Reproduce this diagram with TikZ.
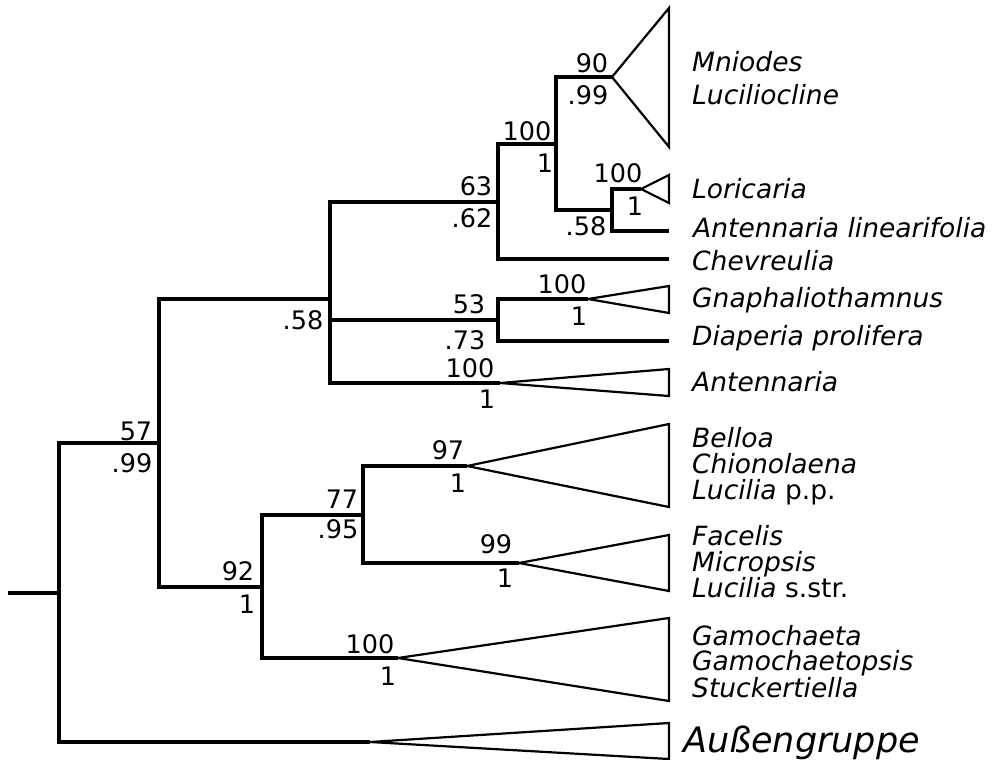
\documentclass[tikz,border=0pt]{standalone}
\usepackage{fontspec}
\setmainfont{DejaVu Sans}
\begin{document}
\begin{tikzpicture}[x=1pt,y=-1pt,
  br/.style={line width=4pt,line join=miter},
  leaf/.style={line width=3.4pt,line join=miter},
  tri/.style={line width=2.2pt,line join=miter},
  num/.style={anchor=base,inner sep=0pt,font=\fontsize{25.5}{26}\selectfont},
  taxon/.style={anchor=base west,inner sep=0pt,font=\fontsize{26.5}{27}\selectfont\itshape},
  big/.style={anchor=base west,inner sep=0pt,font=\fontsize{35}{36}\selectfont\itshape}]
\useasboundingbox (0,0) rectangle (997,760);
% internal nodes
\coordinate (S) at (8,593);
\coordinate (R) at (59,593);
\coordinate (n57) at (159,443);
\coordinate (n58) at (330,299);
\coordinate (n63) at (498,202);
\coordinate (n100a) at (556,144);
\coordinate (n58b) at (612,210);
\coordinate (n53) at (498,320);
\coordinate (n92) at (262,587);
\coordinate (n77) at (363,515);
% clade apices and leaf ends
\coordinate (mnA) at (612,77);
\coordinate (lorA) at (641,189);
\coordinate (alinE) at (669,231);
\coordinate (chevE) at (669,259);
\coordinate (gnA) at (588,299);
\coordinate (diaE) at (669,341);
\coordinate (antA) at (500,383);
\coordinate (belA) at (467,466);
\coordinate (facA) at (519,563);
\coordinate (gamA) at (398,658);
\coordinate (ogA) at (370,742);
% branches
\draw[br] (S) -- (R);
\draw[br] (R) |- (n57);
\draw[br] (R) |- (ogA);
\draw[br] (n57) |- (n58);
\draw[br] (n57) |- (n92);
\draw[br] (n58) |- (n63);
\draw[br] (n58) |- (n53);
\draw[br] (n58) |- (antA);
\draw[br] (n63) |- (n100a);
\draw[leaf] (n63) |- (chevE);
\draw[br] (n100a) |- (mnA);
\draw[br] (n100a) |- (n58b);
\draw[br] (n58b) |- (lorA);
\draw[leaf] (n58b) |- (alinE);
\draw[br] (n53) |- (gnA);
\draw[leaf] (n53) |- (diaE);
\draw[br] (n92) |- (n77);
\draw[br] (n92) |- (gamA);
\draw[br] (n77) |- (belA);
\draw[br] (n77) |- (facA);
% collapsed clades
\draw[tri] (mnA) -- (669,8) -- (669,147) -- cycle;
\draw[tri] (lorA) -- (669,175) -- (669,203) -- cycle;
\draw[tri] (gnA) -- (669,286) -- (669,313) -- cycle;
\draw[tri] (antA) -- (669,369) -- (669,396) -- cycle;
\draw[tri] (belA) -- (669,424) -- (669,507) -- cycle;
\draw[tri] (facA) -- (669,535) -- (669,591) -- cycle;
\draw[tri] (gamA) -- (669,618) -- (669,701) -- cycle;
\draw[tri] (ogA) -- (669,723) -- (669,759) -- cycle;
% support values
\node[num] (l57) at (136,440) {57};
\node[num] (l57b) at (132,472) {.99};
\node[num] (l58) at (303,329) {.58};
\node[num] (l63) at (476,195) {63};
\node[num] (l63b) at (472,227) {.62};
\node[num] (l100a) at (527,140) {100};
\node[num] (l100ab) at (545,172) {1};
\node[num] (l90) at (592,73) {90};
\node[num] (l90b) at (588,105) {.99};
\node[num] (l100l) at (618,182) {100};
\node[num] (l100lb) at (635,215) {1};
\node[num] (l58b) at (586,235) {.58};
\node[num] (l53) at (469,313) {53};
\node[num] (l53b) at (465,349) {.73};
\node[num] (l100g) at (562,293) {100};
\node[num] (l100gb) at (579,325) {1};
\node[num] (l100n) at (470,377) {100};
\node[num] (l100nb) at (487,408) {1};
\node[num] (l92) at (238,580) {92};
\node[num] (l92b) at (247,613) {1};
\node[num] (l77) at (342,508) {77};
\node[num] (l77b) at (338,538) {.95};
\node[num] (l97) at (448,459) {97};
\node[num] (l97b) at (458,492) {1};
\node[num] (l99) at (496,553) {99};
\node[num] (l99b) at (505,587) {1};
\node[num] (l100c) at (370,653) {100};
\node[num] (l100cb) at (388,685) {1};
% taxa
\node[taxon] (t1) at (692,72) {Mniodes};
\node[taxon] (t2) at (692,105) {Luciliocline};
\node[taxon] (t3) at (692,198) {Loricaria};
\node[taxon] (t4) at (693,237) {Antennaria linearifolia};
\node[taxon] (t5) at (692,270) {Chevreulia};
\node[taxon] (t6) at (692,307) {Gnaphaliothamnus};
\node[taxon] (t7) at (692,345) {Diaperia prolifera};
\node[taxon] (t8) at (692,391) {Antennaria};
\node[taxon] (t9) at (692,447) {Belloa};
\node[taxon] (t10) at (692,473) {Chionolaena};
\node[taxon] (t11) at (692,499) {Lucilia \upshape p.p.};
\node[taxon] (t12) at (692,545) {Facelis};
\node[taxon] (t13) at (692,571) {Micropsis};
\node[taxon] (t14) at (692,597) {Lucilia \upshape s.str.};
\node[taxon] (t15) at (692,645) {Gamochaeta};
\node[taxon] (t16) at (692,670) {Gamochaetopsis};
\node[taxon] (t17) at (692,697) {Stuckertiella};
\node[big] (t18) at (683,752) {Außengruppe};
\end{tikzpicture}
\end{document}
